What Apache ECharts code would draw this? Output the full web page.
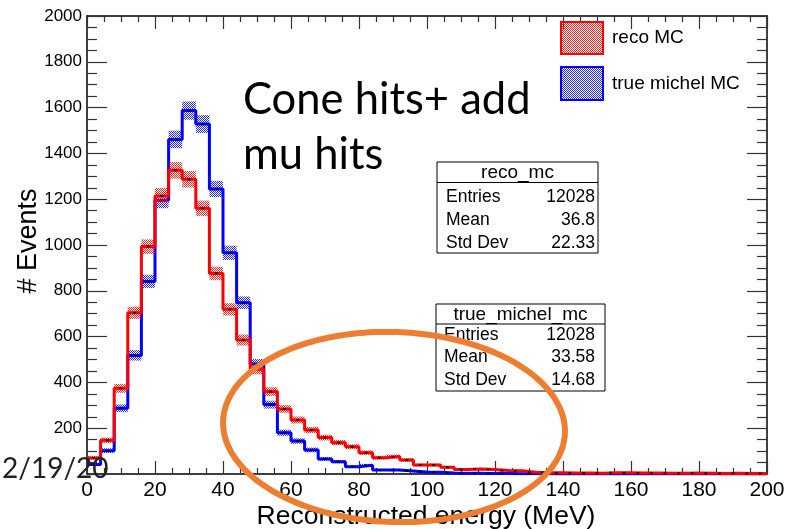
<!DOCTYPE html>
<html>
<head>
<meta charset="utf-8">
<script src="https://cdn.jsdelivr.net/npm/echarts@6/dist/echarts.min.js"></script>
<style>
  html, body { margin: 0; padding: 0; background: #ffffff; }
  #chart { width: 792px; height: 529px; }
</style>
</head>
<body>
<div id="chart"></div>
<script>
// Histogram binning: 50 bins of 4 MeV from 0 to 200 MeV (low edges)
const binLow = [0, 4, 8, 12, 16, 20, 24, 28, 32, 36, 40, 44, 48, 52, 56, 60, 64, 68, 72, 76,
                80, 84, 88, 92, 96, 100, 104, 108, 112, 116, 120, 124, 128, 132, 136, 140, 144, 148, 152, 156,
                160, 164, 168, 172, 176, 180, 184, 188, 192, 196];
const binWidth = 4;

// Bin contents
const recoMC = [70, 147, 374, 704, 993, 1214, 1326, 1287, 1160, 876, 719, 585, 457, 360, 284, 236, 192, 159, 137, 119,
                93, 71, 76, 61, 39, 39, 29, 20, 22, 20, 15, 14, 8, 6, 5, 4, 4, 3, 6, 5,
                4, 4, 3, 3, 4, 3, 2, 3, 2, 2];
const trueMichelMC = [42, 102, 287, 518, 841, 1195, 1461, 1587, 1528, 1245, 966, 748, 480, 303, 180, 144, 105, 66, 54, 32,
                      38, 17, 17, 13, 9, 8, 4, 3, 3, 2, 2, 1, 1, 1, 0, 1, 0, 0, 1, 0,
                      0, 0, 0, 0, 0, 0, 0, 0, 0, 0];

// Axis ticks
const xTicks = [0, 20, 40, 60, 80, 100, 120, 140, 160, 180, 200];
const yTicks = [0, 200, 400, 600, 800, 1000, 1200, 1400, 1600, 1800, 2000];

// Statistics boxes
const statsReco = { title: 'reco_mc', rows: [['Entries', '12028'], ['Mean', '36.8'], ['Std Dev', '22.33']] };
const statsTrue = { title: 'true_michel_mc', rows: [['Entries', '12028'], ['Mean', '33.58'], ['Std Dev', '14.68']] };

const RED = '#ff0000';
const BLUE = '#0000ff';
const FONT = '"Liberation Sans", Arial, Helvetica, sans-serif';
const SLIDE_FONT = 'Lato, "Open Sans", sans-serif';

// Dotted fill used for the statistical error boxes
function dotPattern(color) {
  const c = document.createElement('canvas');
  c.width = 2; c.height = 2;
  const g = c.getContext('2d');
  g.fillStyle = color;
  g.fillRect(0, 0, 1, 1);
  g.fillRect(1, 1, 1, 1);
  return c;
}
const redPat = dotPattern('rgba(255,0,0,0.85)');
const bluePat = dotPattern('rgba(0,0,255,0.85)');

function stepData(values) {
  const d = binLow.map((x, i) => [x, values[i]]);
  d.push([binLow[binLow.length - 1] + binWidth, values[values.length - 1]]);
  return d;
}
function bandData(values) {
  return binLow.map((x, i) => [x, x + binWidth, values[i]]);
}
function markerData(values) {
  return binLow.map((x, i) => [x + binWidth / 2, values[i]]).filter(p => p[1] > 0);
}
function bandSeries(values, pat, z) {
  return {
    type: 'custom',
    data: bandData(values),
    z: z,
    silent: true,
    renderItem: function (params, api) {
      const v = api.value(2);
      if (v <= 0) return null;
      const e = Math.sqrt(v);
      const p1 = api.coord([api.value(0), v + e]);
      const p2 = api.coord([api.value(1), v - e]);
      return {
        type: 'rect',
        shape: { x: p1[0], y: p1[1], width: p2[0] - p1[0], height: p2[1] - p1[1] },
        style: { fill: { image: pat, repeat: 'repeat' } }
      };
    }
  };
}
function lineSeries(values, color, z) {
  return {
    type: 'line', step: 'end', data: stepData(values), z: z,
    showSymbol: false, silent: true,
    lineStyle: { color: color, width: 3 }
  };
}
function markerSeries(values, z) {
  return {
    type: 'scatter', data: markerData(values), z: z, silent: true,
    symbol: 'rect', symbolSize: [3, 2], itemStyle: { color: '#000' }
  };
}

// Ellipse outline (slide annotation)
function ellipsePoints(cx, cy, rx, ry, rotDeg) {
  const th = rotDeg * Math.PI / 180, pts = [];
  for (let k = 0; k < 240; k++) {
    const t = 2 * Math.PI * k / 240;
    const ex = rx * Math.cos(t), ey = ry * Math.sin(t);
    pts.push([cx + ex * Math.cos(th) - ey * Math.sin(th), cy + ex * Math.sin(th) + ey * Math.cos(th)]);
  }
  return pts;
}

function statsBox(s, x, y, w, h, titleH, rowYs, padL, padR) {
  const els = [
    { type: 'rect', shape: { x: x, y: y, width: w, height: h }, style: { fill: '#fff', stroke: '#000', lineWidth: 1 } },
    { type: 'line', shape: { x1: x, y1: y + titleH, x2: x + w, y2: y + titleH }, style: { stroke: '#000', lineWidth: 1 } },
    { type: 'text', x: x + w / 2, y: y + titleH / 2 + 1,
      style: { text: s.title, font: '19px ' + FONT, fill: '#000', align: 'center', verticalAlign: 'middle' } }
  ];
  s.rows.forEach((r, i) => {
    els.push({ type: 'text', x: x + padL, y: rowYs[i],
      style: { text: r[0], font: '17.5px ' + FONT, fill: '#000', align: 'left', verticalAlign: 'middle' } });
    els.push({ type: 'text', x: x + w - padR, y: rowYs[i],
      style: { text: r[1], font: '17.5px ' + FONT, fill: '#000', align: 'right', verticalAlign: 'middle' } });
  });
  return els;
}

const chart = echarts.init(document.getElementById('chart'), null, { renderer: 'canvas' });

const axisLineStyle = { color: '#000', width: 1.5 };
const tickStyle = { color: '#333', width: 1.2 };

const xAxisBase = {
  type: 'value', min: xTicks[0], max: xTicks[xTicks.length - 1], interval: xTicks[1] - xTicks[0],
  axisLine: { show: true, onZero: false, lineStyle: axisLineStyle },
  axisTick: { show: true, inside: true, length: 13, lineStyle: tickStyle },
  minorTick: { show: true, splitNumber: 4, length: 6, lineStyle: tickStyle },
  splitLine: { show: false }
};
const yAxisBase = {
  type: 'value', min: yTicks[0], max: yTicks[yTicks.length - 1], interval: yTicks[1] - yTicks[0],
  axisLine: { show: true, onZero: false, lineStyle: axisLineStyle },
  axisTick: { show: true, inside: true, length: 20, lineStyle: tickStyle },
  minorTick: { show: true, splitNumber: 4, length: 10, lineStyle: tickStyle },
  splitLine: { show: false }
};

const option = {
  backgroundColor: '#ffffff',
  animation: false,
  grid: { left: 87, right: 25, top: 16, bottom: 55, containLabel: false },
  xAxis: [
    Object.assign({}, xAxisBase, { position: 'bottom',
      axisLabel: { fontSize: 21, fontFamily: FONT, color: '#000', margin: 6 } }),
    Object.assign({}, xAxisBase, { position: 'top', axisLabel: { show: false } })
  ],
  yAxis: [
    Object.assign({}, yAxisBase, { position: 'left',
      axisLabel: { fontSize: 17, fontFamily: FONT, color: '#000', margin: 5,
                   formatter: v => (v === 0 ? '' : String(v)) } }),
    Object.assign({}, yAxisBase, { position: 'right', axisLabel: { show: false } })
  ],
  series: [
    bandSeries(trueMichelMC, bluePat, 3),
    lineSeries(trueMichelMC, BLUE, 4),
    markerSeries(trueMichelMC, 5),
    bandSeries(recoMC, redPat, 6),
    lineSeries(recoMC, RED, 7),
    markerSeries(recoMC, 8)
  ],
  graphic: {
    elements: [].concat(
      // axis titles
      [{ type: 'text', x: 426, y: 517, z: 50,
         style: { text: 'Reconstructed energy (MeV)', font: '26.5px ' + FONT, fill: '#000', align: 'center', verticalAlign: 'middle' } },
       { type: 'text', x: 29, y: 241, rotation: Math.PI / 2, z: 50,
         style: { text: '# Events', font: '27px ' + FONT, fill: '#000', align: 'center', verticalAlign: 'middle' } }],
      // legend
      [{ type: 'rect', shape: { x: 561, y: 22, width: 42, height: 32 }, z: 50,
         style: { fill: { image: redPat, repeat: 'repeat' }, stroke: RED, lineWidth: 2 } },
       { type: 'text', x: 612, y: 38, z: 50,
         style: { text: 'reco MC', font: '19px ' + FONT, fill: '#000', align: 'left', verticalAlign: 'middle' } },
       { type: 'rect', shape: { x: 561, y: 67, width: 42, height: 33 }, z: 50,
         style: { fill: { image: bluePat, repeat: 'repeat' }, stroke: BLUE, lineWidth: 2 } },
       { type: 'text', x: 612, y: 84, z: 50,
         style: { text: 'true michel MC', font: '19px ' + FONT, fill: '#000', align: 'left', verticalAlign: 'middle' } }],
      // statistics boxes
      statsBox(statsReco, 437, 162, 161, 91, 20.5, [197, 220, 243], 9, 3).map(e => Object.assign(e, { z: 50 })),
      statsBox(statsTrue, 436, 304, 169, 87, 20, [335, 357, 380], 8, 10).map(e => Object.assign(e, { z: 50 })),
      // slide annotations
      [{ type: 'text', x: 243, y: 100, z: 60,
         style: { text: 'Cone hits+ add', font: '43.5px ' + SLIDE_FONT, fill: '#000', align: 'left', verticalAlign: 'middle' } },
       { type: 'text', x: 243, y: 155, z: 60,
         style: { text: 'mu hits', font: '43.5px ' + SLIDE_FONT, fill: '#000', align: 'left', verticalAlign: 'middle' } },
       { type: 'polygon', z: 70, shape: { points: ellipsePoints(394, 427, 171, 95, 2) },
         style: { fill: 'none', stroke: '#ED7D31', lineWidth: 6 } },
       { type: 'text', x: 2, y: 469, z: 80,
         style: { text: '2/19/20', font: '28px ' + SLIDE_FONT, fill: '#222', align: 'left', verticalAlign: 'middle' } }]
    )
  }
};

chart.setOption(option);
</script>
</body>
</html>
